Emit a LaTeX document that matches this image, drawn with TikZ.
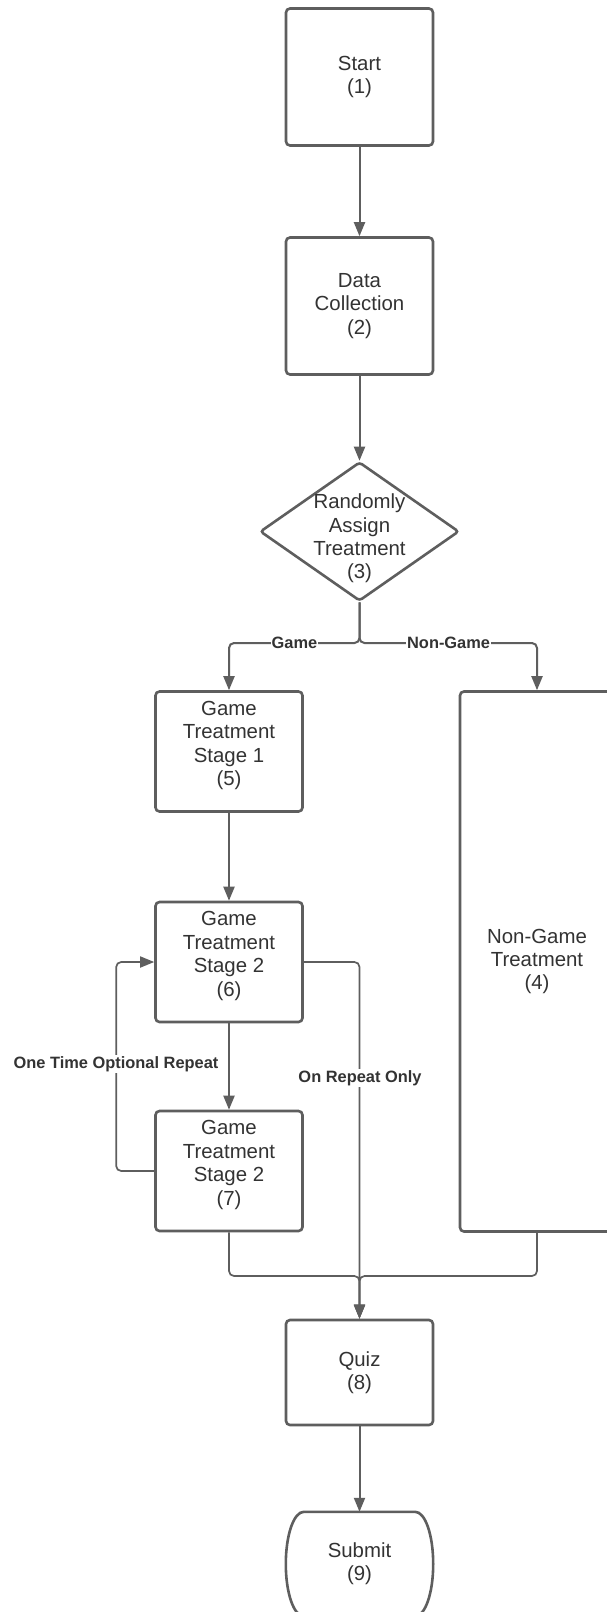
\documentclass[tikz,border=0pt]{standalone}
\usepackage{fontspec}
\setmainfont{Liberation Sans}
\usetikzlibrary{arrows.meta,shapes.geometric}
\definecolor{ln}{HTML}{5E5E5E}
\definecolor{tx}{HTML}{333333}
\begin{document}
\begin{tikzpicture}[x=1pt,y=-1pt,
  box/.style={draw=ln, line width=2.6pt, rounded corners=4pt, minimum width=147pt,
    text=tx, align=center, font=\fontsize{20.4}{23.4}\selectfont, inner sep=0pt},
  tlab/.style={text=tx, align=center, font=\fontsize{20.4}{23.4}\selectfont},
  conn/.style={draw=ln, line width=2pt, rounded corners=5pt},
  arr/.style={conn, -{Triangle[length=14pt,width=11pt]}},
  lab/.style={fill=white, text=tx, font=\bfseries\fontsize{16.4}{19}\selectfont, inner sep=1pt}]
\fill[white] (0,0) rectangle (606,1612);
\useasboundingbox (0,0) rectangle (606,1612);

% nodes
\node[box, minimum height=137pt] (start) at (359.5,77) {Start\\(1)};
\node[box, minimum height=137pt] (data) at (359.5,306) {Data\\Collection\\(2)};
\node[draw=ln, line width=2.6pt, diamond, rounded corners=3pt, minimum width=199pt,
  minimum height=139pt, inner sep=0pt,
  label={[tlab,yshift=-7pt]center:Randomly\\Assign\\Treatment\\(3)}] (rand) at (359.5,531.5) {};
\node[box, minimum height=120pt,
  label={[tlab,yshift=6pt]center:Game\\Treatment\\Stage 1\\(5)}] (g5) at (229,751.5) {};
\node[box, minimum height=120pt,
  label={[tlab,yshift=6pt]center:Game\\Treatment\\Stage 2\\(6)}] (g6) at (229,962) {};
\node[box, minimum height=120pt,
  label={[tlab,yshift=6pt]center:Game\\Treatment\\Stage 2\\(7)}] (g7) at (229,1171) {};
\node[box, minimum width=154pt, minimum height=540pt] (ng) at (537,961.5) {Non-Game\\Treatment\\(4)};
\node[box, minimum height=105pt] (quiz) at (359.5,1372.5) {Quiz\\(8)};
\node[tlab, minimum width=147pt, minimum height=104pt, inner sep=0pt] (sub) at (359.5,1564) {Submit\\(9)};
\draw[draw=ln, line width=2.6pt]
  (sub.west) .. controls ([yshift=29pt]sub.west) and ([xshift=8pt]sub.north west) ..
  ([xshift=18pt]sub.north west) -- ([xshift=-18pt]sub.north east)
  .. controls ([xshift=-8pt]sub.north east) and ([yshift=29pt]sub.east) .. (sub.east)
  .. controls ([yshift=-29pt]sub.east) and ([xshift=-8pt]sub.south east) ..
  ([xshift=-18pt]sub.south east) -- ([xshift=18pt]sub.south west)
  .. controls ([xshift=8pt]sub.south west) and ([yshift=-29pt]sub.west) .. (sub.west);

% connectors
\coordinate (split) at (359.5,643);
\coordinate (merge) at (359.5,1276);
\draw[arr] (start) -- (data);
\draw[arr] (data) -- (rand);
\draw[arr] (rand.south) -- (split) -| (g5.north);
\draw[arr] (rand.south) -- (split) -| (ng.north);
\draw[arr] (g5) -- (g6);
\draw[arr] (g6) -- (g7);
\draw[arr, line width=1.7pt] (g7.west) -- ++(-38,0) |- (g6.west);
\draw[arr, line width=1.7pt] (g6.east) -| (quiz.north);
\draw[arr, line width=1.7pt] (g7.south) |- (merge) -- (quiz.north);
\draw[arr, line width=1.7pt] (ng.south) |- (merge) -- (quiz.north);
\draw[arr] (quiz) -- (sub.north);

% labels
\node[lab] (lgame) at (294.5,643) {Game};
\node[lab] (lngame) at (448.6,643) {Non-Game};
\node[lab] (lrep) at (116,1064) {One Time Optional Repeat};
\node[lab] (lonly) at (360,1078) {On Repeat Only};
\end{tikzpicture}
\end{document}
